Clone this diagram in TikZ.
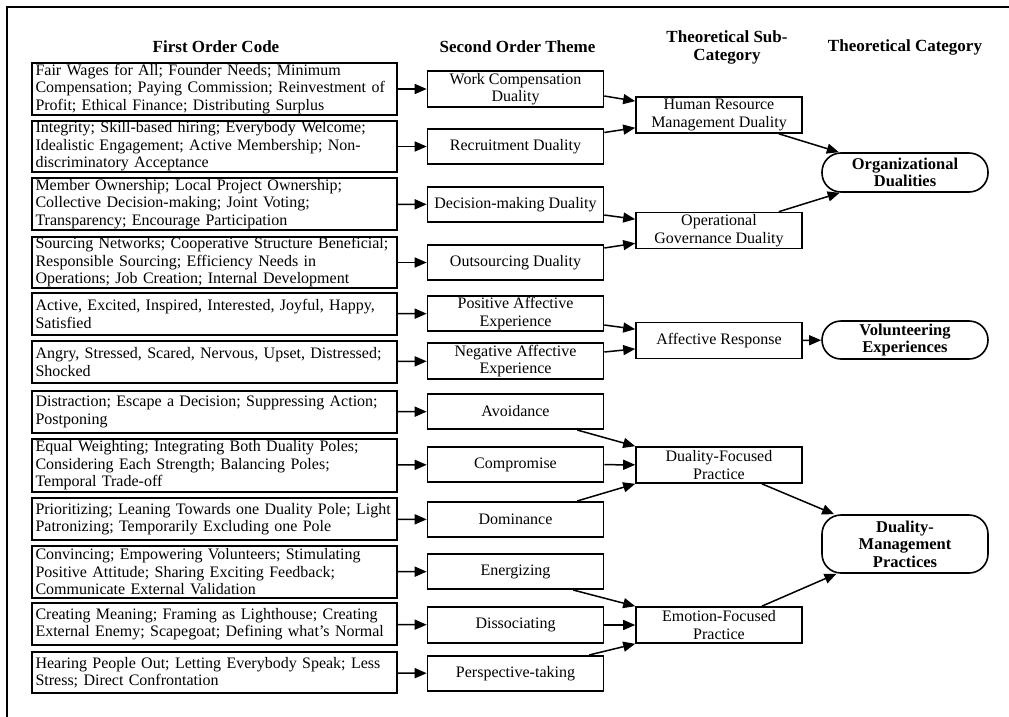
\documentclass[tikz,border=0pt]{standalone}
\usepackage{fontspec}
\setmainfont{Liberation Serif}
\usetikzlibrary{arrows.meta}

\begin{document}
\begin{tikzpicture}[x=1pt, y=-1pt,
    every node/.style={font=\fontsize{16pt}{17.5pt}\selectfont},
    code/.style={rectangle, draw, line width=1.6pt, text width=358pt, inner xsep=3.5pt, inner ysep=0pt, align=left},
    theme/.style={rectangle, draw, line width=1.6pt, minimum width=176pt, minimum height=35.5pt, inner sep=1pt, align=center},
    sub/.style={theme, minimum width=166pt, minimum height=36pt},
    cat/.style={rectangle, draw, rounded corners=19pt, line width=1.6pt, minimum width=166pt, inner sep=1pt, align=center, font=\fontsize{16.5pt}{17.5pt}\selectfont\bfseries},
    head/.style={align=center, font=\fontsize{17pt}{18pt}\selectfont\bfseries},
    arr/.style={-{Triangle[length=12pt,width=10pt]}, line width=1.5pt}]
    \useasboundingbox (0,0) rectangle (1009,717);
    \draw[line width=2.5pt] (7,717) -- (7,7) -- (1009,7);

    \node[head] (h1) at (216,47) {First Order Code};
    \node[head] (h2) at (517.5,47) {Second Order Theme};
    \node[head] (h3) at (727,47.5) {Theoretical Sub-\\Category};
    \node[head] (h4) at (905,47) {Theoretical Category};

    \node[code, minimum height=52pt] (c1) at (214.5,89) {Fair Wages for All; Founder Needs; Minimum\\Compensation; Paying Commission; Reinvestment of\\Profit; Ethical Finance; Distributing Surplus};
    \node[code, minimum height=51pt] (c2) at (214.5,146.5) {Integrity; Skill-based hiring; Everybody Welcome;\\Idealistic Engagement; Active Membership; Non-\\discriminatory Acceptance};
    \node[code, minimum height=52pt] (c3) at (214.5,204) {Member Ownership; Local Project Ownership;\\Collective Decision-making; Joint Voting;\\Transparency; Encourage Participation};
    \node[code, minimum height=51pt] (c4) at (214.5,262.5) {Sourcing Networks; Cooperative Structure Beneficial;\\Responsible Sourcing; Efficiency Needs in\\Operations; Job Creation; Internal Development};
    \node[code, minimum height=42pt] (c5) at (214.5,314) {Active, Excited, Inspired, Interested, Joyful, Happy,\\Satisfied};
    \node[code, minimum height=42pt] (c6) at (214.5,362) {Angry, Stressed, Scared, Nervous, Upset, Distressed;\\Shocked};
    \node[code, minimum height=42pt] (c7) at (214.5,412) {Distraction; Escape a Decision; Suppressing Action;\\Postponing};
    \node[code, minimum height=53pt] (c8) at (214.5,465.5) {Equal Weighting; Integrating Both Duality Poles;\\Considering Each Strength; Balancing Poles;\\Temporal Trade-off};
    \node[code, minimum height=42pt] (c9) at (214.5,519) {Prioritizing; Leaning Towards one Duality Pole; Light\\Patronizing; Temporarily Excluding one Pole};
    \node[code, minimum height=52pt] (c10) at (214.5,572) {Convincing; Empowering Volunteers; Stimulating\\Positive Attitude; Sharing Exciting Feedback;\\Communicate External Validation};
    \node[code, minimum height=42pt] (c11) at (214.5,624) {Creating Meaning; Framing as Lighthouse; Creating\\External Enemy; Scapegoat; Defining what's Normal};
    \node[code, minimum height=41pt] (c12) at (214.5,672.5) {Hearing People Out; Letting Everybody Speak; Less\\Stress; Direct Confrontation};

    \node[theme] (wc) at (515.5,89) {Work Compensation\\Duality};
    \node[theme] (rec) at (515.5,146.5) {Recruitment Duality};
    \node[theme] (dm) at (515.5,204.5) {Decision-making Duality};
    \node[theme] (out) at (515.5,262.5) {Outsourcing Duality};
    \node[theme] (pos) at (515.5,313.5) {Positive Affective\\Experience};
    \node[theme] (neg) at (515.5,361) {Negative Affective\\Experience};
    \node[theme] (avoid) at (515.5,411.5) {Avoidance};
    \node[theme] (comp) at (515.5,464.5) {Compromise};
    \node[theme] (dom) at (515.5,519.5) {Dominance};
    \node[theme] (ener) at (515.5,571.5) {Energizing};
    \node[theme] (diss) at (515.5,625) {Dissociating};
    \node[theme] (persp) at (515.5,673.5) {Perspective-taking};

    \node[sub] (hrm) at (719,115) {Human Resource\\Management Duality};
    \node[sub] (ogd) at (719,230.5) {Operational\\Governance Duality};
    \node[sub] (ar) at (719,340.5) {Affective Response};
    \node[sub] (dfp) at (719,465) {Duality-Focused\\Practice};
    \node[sub] (efp) at (719,625) {Emotion-Focused\\Practice};

    \node[cat, minimum height=39pt] (orgd) at (905,172.5) {Organizational\\Dualities};
    \node[cat, minimum height=38pt] (ve) at (905,340) {Volunteering\\Experiences};
    \node[cat, minimum height=58pt] (dmp) at (905,544) {Duality-\\Management\\Practices};

    \draw[arr] (c1) -- (wc);
    \draw[arr] (c2) -- (rec);
    \draw[arr] (c3) -- (dm);
    \draw[arr] (c4) -- (out);
    \draw[arr] (c5) -- (pos);
    \draw[arr] (c6) -- (neg);
    \draw[arr] (c7) -- (avoid);
    \draw[arr] (c8) -- (comp);
    \draw[arr] (c9) -- (dom);
    \draw[arr] (c10) -- (ener);
    \draw[arr] (c11) -- (diss);
    \draw[arr] (c12) -- (persp);

    \draw[arr] ([yshift=-7pt]wc.east) -- (hrm);
    \draw[arr] ([yshift=14pt]rec.east) -- (hrm);
    \draw[arr] ([yshift=-10.5pt]dm.east) -- (ogd);
    \draw[arr] ([yshift=14.5pt]out.east) -- (ogd);
    \draw[arr] ([yshift=-11.5pt]pos.east) -- (ar);
    \draw[arr] ([yshift=9pt]neg.east) -- (ar);
    \draw[arr] ([xshift=-27pt]avoid.south east) -- (dfp.north west);
    \draw[arr] (comp) -- (dfp);
    \draw[arr] ([xshift=-27pt]dom.north east) -- (dfp.south west);
    \draw[arr] ([xshift=-31pt]ener.south east) -- (efp.north west);
    \draw[arr] (diss) -- (efp);
    \draw[arr] ([xshift=-15pt]persp.north east) -- (efp.south west);

    \draw[arr] ([xshift=-24pt]hrm.south east) -- (orgd);
    \draw[arr] ([xshift=-24pt]ogd.north east) -- (orgd);
    \draw[arr] (ar) -- (ve);
    \draw[arr] ([xshift=-41pt]dfp.south east) -- (dmp);
    \draw[arr] ([xshift=-41pt]efp.north east) -- (dmp);
\end{tikzpicture}
\end{document}
